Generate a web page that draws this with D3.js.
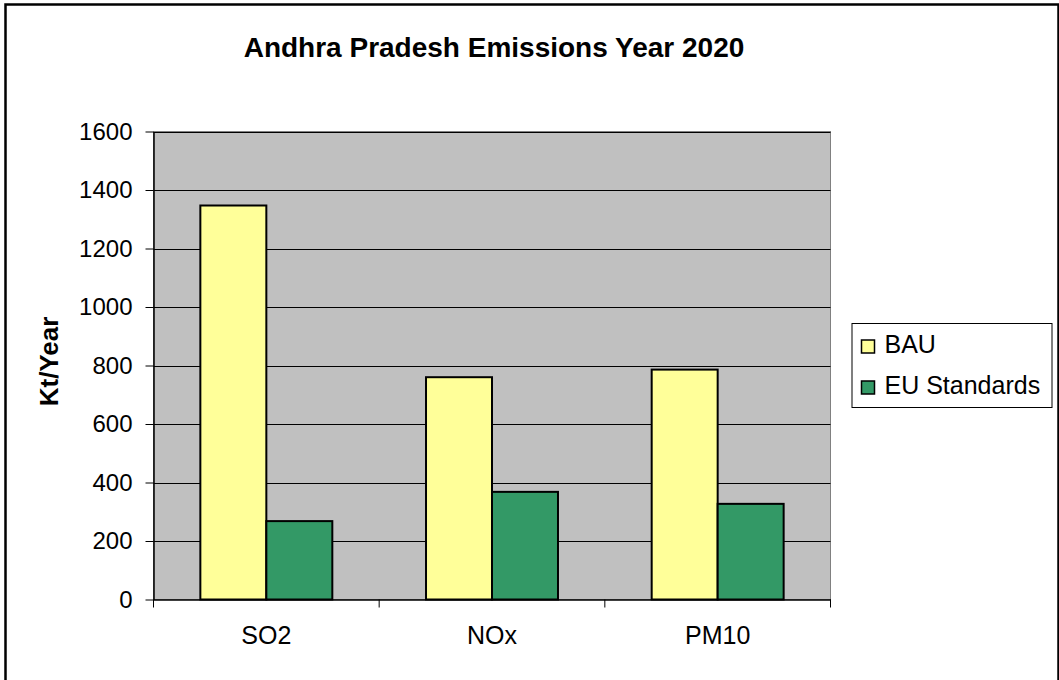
<!DOCTYPE html>
<html>
  <head>
    <meta charset="utf-8">
    <title>Andhra Pradesh Emissions Year 2020</title>
    <script src="https://d3js.org/d3.v7.min.js"></script>
    <style>
      body { margin: 0; background: #fff; }
      svg text { font-family: "Liberation Sans", Arial, sans-serif; fill: #000; }
    </style>
  </head>
  <body>
    <svg id="chart" width="1059" height="680"></svg>
    <script>
      // data
      categories = ["SO2", "NOx", "PM10"];
      seriesNames = ["BAU", "EU Standards"];
      bau = [1347, 760, 786];
      euStandards = [268, 368, 327];
      yTicks = [0, 200, 400, 600, 800, 1000, 1200, 1400, 1600];
      colours = ["#ffff99", "#339966"];

      rows = categories.map(function(c, i) {
        return { category: c, values: [bau[i], euStandards[i]] };
      });

      // page elements
      margin = { top: 131.5, right: 228.5, bottom: 80.5, left: 153.5 };
      chartWidth = 1059;
      chartHeight = 680;
      chart = d3.select("#chart");

      // outer border
      chart.append("rect")
        .attr("x", 5.5)
        .attr("y", 4.5)
        .attr("width", 1053)
        .attr("height", 690)
        .attr("fill", "none")
        .attr("stroke", "#000")
        .attr("stroke-width", 2.5);

      // scales
      x0 = d3.scaleBand()
        .domain(categories)
        .range([margin.left, chartWidth - margin.right]);
      x1 = d3.scaleBand()
        .domain(seriesNames)
        .range([0, x0.bandwidth()])
        .paddingInner(0)
        .paddingOuter(0.71);
      y = d3.scaleLinear()
        .domain([0, 1600])
        .range([chartHeight - margin.bottom, margin.top]);

      // plot area
      chart.append("rect")
        .attr("x", margin.left)
        .attr("y", margin.top)
        .attr("width", chartWidth - margin.left - margin.right)
        .attr("height", chartHeight - margin.top - margin.bottom)
        .attr("fill", "#c0c0c0")
        .attr("stroke", "#808080")
        .attr("stroke-width", 1);

      // gridlines
      chart.append("g")
        .selectAll("line")
          .data(yTicks.slice(1))
        .enter().append("line")
          .attr("x1", margin.left)
          .attr("x2", chartWidth - margin.right)
          .attr("y1", function(d) { return Math.round(y(d)) + 0.5; })
          .attr("y2", function(d) { return Math.round(y(d)) + 0.5; })
          .attr("stroke", "#000")
          .attr("stroke-width", 1);

      // bars
      groups = chart.append("g")
        .selectAll(".group")
          .data(rows)
        .enter().append("g")
          .attr("transform", function(d) { return "translate(" + x0(d.category) + ",0)"; });
      groups.selectAll("rect")
          .data(function(d) { return d.values.map(function(v, i) { return { name: seriesNames[i], value: v, i: i }; }); })
        .enter().append("rect")
          .attr("x", function(d) { return x1(d.name); })
          .attr("y", function(d) { return y(d.value); })
          .attr("width", x1.bandwidth())
          .attr("height", function(d) { return y(0) - y(d.value); })
          .attr("fill", function(d) { return colours[d.i]; })
          .attr("stroke", "#000")
          .attr("stroke-width", 2);

      // axes
      yAxis = d3.axisLeft(y)
        .tickValues(yTicks)
        .tickFormat(d3.format("d"))
        .tickSize(8)
        .tickSizeOuter(0)
        .tickPadding(13);
      yAxisGroup = chart.append("g")
        .attr("transform", "translate(" + margin.left + ",0)")
        .call(yAxis);
      yAxisGroup.selectAll("text")
        .style("font-size", "24px");

      xAxis = d3.axisBottom(x0)
        .tickSize(0)
        .tickPadding(27);
      xAxisGroup = chart.append("g")
        .attr("transform", "translate(0," + (chartHeight - margin.bottom) + ")")
        .call(xAxis);
      xAxisGroup.selectAll("text")
        .style("font-size", "25px");
      // category boundary ticks
      xAxisGroup.selectAll(".boundary")
          .data(categories.concat([null]))
        .enter().append("line")
          .attr("x1", function(d, i) { return margin.left + i * x0.step(); })
          .attr("x2", function(d, i) { return margin.left + i * x0.step(); })
          .attr("y1", 0)
          .attr("y2", 8)
          .attr("stroke", "#000");
      chart.selectAll(".domain")
        .attr("stroke", "#000")
        .attr("stroke-width", 1.5);

      // titles
      chart.append("text")
        .attr("x", 494)
        .attr("y", 56.5)
        .attr("text-anchor", "middle")
        .style("font-size", "28px")
        .style("font-weight", "bold")
        .text("Andhra Pradesh Emissions Year 2020");
      chart.append("text")
        .attr("transform", "translate(58,361.5) rotate(-90)")
        .attr("text-anchor", "middle")
        .style("font-size", "26px")
        .style("font-weight", "bold")
        .text("Kt/Year");

      // legend
      legend = chart.append("g")
        .attr("transform", "translate(852,323.5)");
      legend.append("rect")
        .attr("width", 200)
        .attr("height", 84)
        .attr("fill", "#fff")
        .attr("stroke", "#000")
        .attr("stroke-width", 1);
      items = legend.selectAll(".item")
          .data(seriesNames)
        .enter().append("g")
          .attr("transform", function(d, i) { return "translate(9.5," + (23 + i * 41) + ")"; });
      items.append("rect")
        .attr("x", 0)
        .attr("y", -6.5)
        .attr("width", 13)
        .attr("height", 13)
        .attr("fill", function(d, i) { return colours[i]; })
        .attr("stroke", "#000")
        .attr("stroke-width", 1.5);
      items.append("text")
        .attr("x", 23)
        .attr("y", 6.5)
        .style("font-size", "25px")
        .text(function(d) { return d; });
    </script>
  </body>
</html>
